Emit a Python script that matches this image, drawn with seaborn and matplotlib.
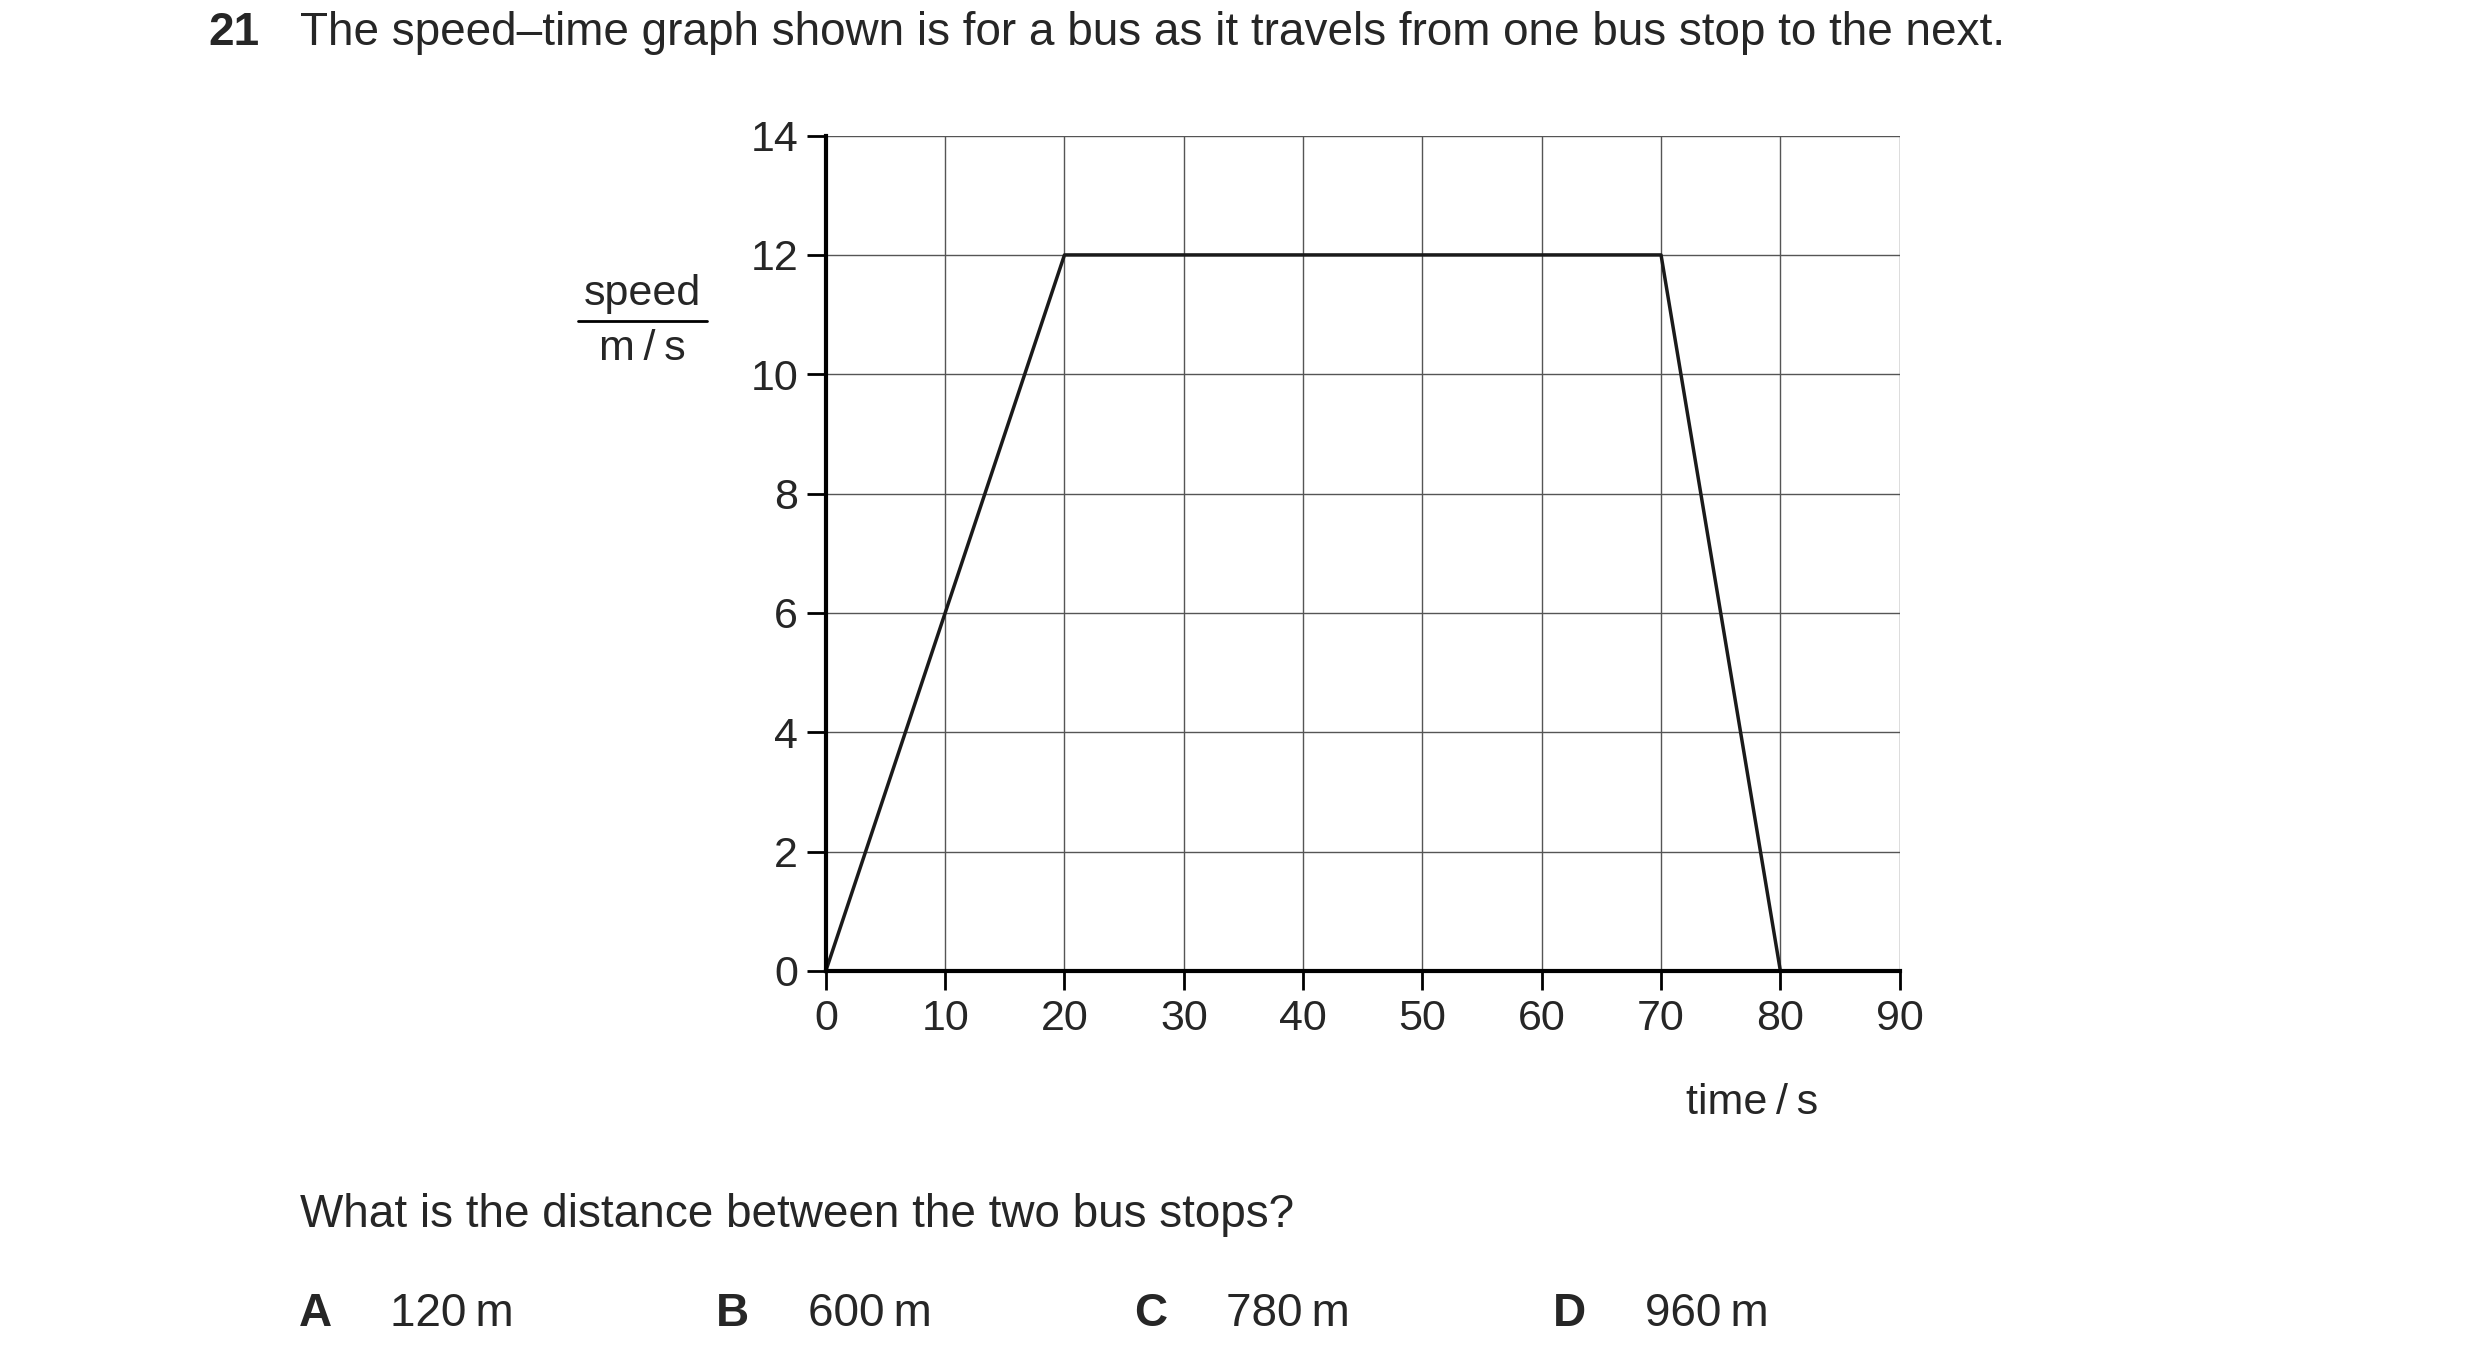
import matplotlib
matplotlib.use("Agg")
import matplotlib.pyplot as plt
import seaborn as sns
import pandas as pd

sns.set_theme(style="white")
plt.rcParams['font.family'] = ['Liberation Sans', 'DejaVu Sans']

time_s = [0, 20, 70, 80]
speed_ms = [0, 12, 12, 0]
x_ticks = [0, 10, 20, 30, 40, 50, 60, 70, 80, 90]
y_ticks = [0, 2, 4, 6, 8, 10, 12, 14]
options = [("A", "120\u2009m"), ("B", "600\u2009m"), ("C", "780\u2009m"), ("D", "960\u2009m")]

df = pd.DataFrame({"time": time_s, "speed": speed_ms})

fig = plt.figure(figsize=(24.8, 13.56), dpi=100)
ax = fig.add_axes([0.333, 0.284, 0.433, 0.616])
ax.set_xlim(0, 90)
ax.set_ylim(0, 14)
ax.set_xticks(x_ticks)
ax.set_yticks(y_ticks)
for v in x_ticks[1:]:
    ax.axvline(v, color="#555555", lw=1.0, zorder=0)
for v in y_ticks[1:]:
    ax.axhline(v, color="#555555", lw=1.0, zorder=0)
sns.lineplot(data=df, x="time", y="speed", ax=ax, color="#1a1a1a", lw=2.5, sort=False)
for s in ["top", "right"]:
    ax.spines[s].set_visible(False)
for s in ["left", "bottom"]:
    ax.spines[s].set_color("black")
    ax.spines[s].set_linewidth(3)
ax.tick_params(axis="both", direction="out", length=14, width=2, color="black",
               labelsize=31, pad=6, left=True, bottom=True)
ax.set_xlabel("")
ax.set_ylabel("")

fs = 33
fig.text(0.084, 0.976, "21", fontsize=fs, fontweight="bold", va="center")
fig.text(0.121, 0.976, "The speed\u2013time graph shown is for a bus as it travels from one bus stop to the next.",
         fontsize=fs, va="center")
fig.text(0.259, 1 - 184/848, "speed", fontsize=31, ha="center", va="center")
fig.text(0.259, 1 - 218/848, "m\u2009/\u2009s", fontsize=31, ha="center", va="center")
fig.add_artist(plt.Line2D([0.233, 0.285], [1 - 201/848, 1 - 201/848], color="black", lw=2))
fig.text(1095/1550, 1 - 690/848, "time\u2009/\u2009s", fontsize=31, ha="center", va="center")
fig.text(0.121, 1 - 760/848, "What is the distance between the two bus stops?", fontsize=fs, va="center")
letter_x = [197, 458, 719, 981]
for (L, t), lx in zip(options, letter_x):
    fig.text(lx/1550, 1 - 822/848, L, fontsize=fs, fontweight="bold", va="center", ha="center")
    fig.text((lx + 47)/1550, 1 - 822/848, t, fontsize=fs, va="center")

fig.savefig("out.png", dpi=100, facecolor="white")
